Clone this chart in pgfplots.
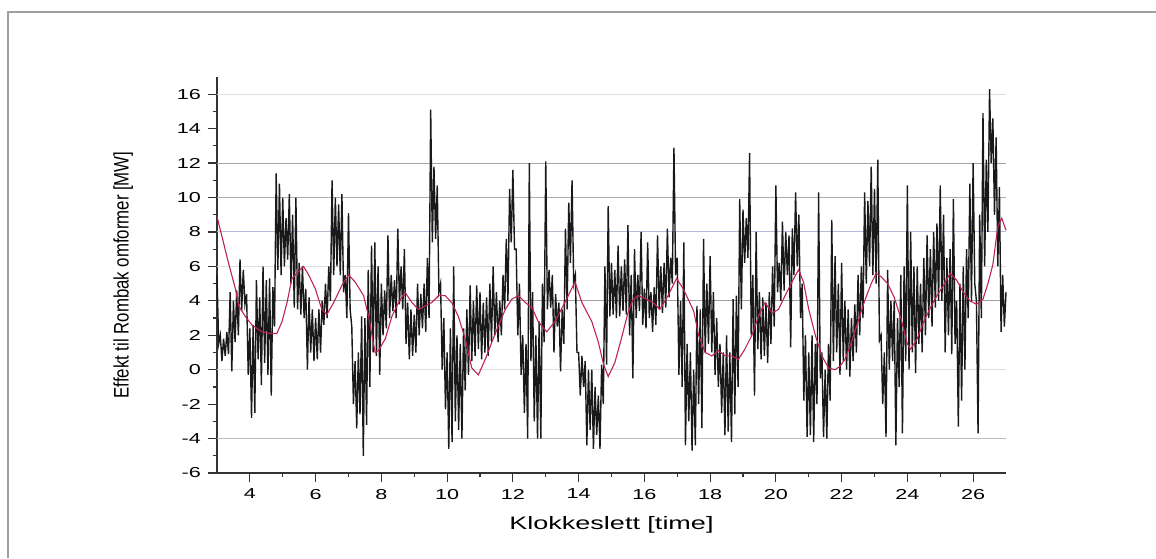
\documentclass[border=0pt]{standalone}
\usepackage{fontspec}
\setmainfont{Liberation Sans}
\usepackage{pgfplots}
\pgfplotsset{compat=1.18}
\definecolor{avg}{RGB}{190,35,85}
\definecolor{gridblue}{RGB}{150,160,205}
\begin{document}
\begin{tikzpicture}
\path[use as bounding box] (0,0) rectangle (578pt,279pt);
\draw[gray!75, line width=1pt] (4pt,0) -- (4pt,273pt) -- (578pt,273pt);
\begin{axis}[
    at={(108.5pt,42.5pt)}, anchor=south west,
    scale only axis, width=394.5pt, height=198pt,
    xmin=3, xmax=27, ymin=-6, ymax=17,
    axis x line*=bottom, axis y line*=left,
    axis line style={-, black!80, line width=0.75pt},
    xtick={4,6,...,26}, ytick={-6,-4,...,16},
    minor x tick num=1, minor y tick num=1,
    tick align=outside, major tick length=4.5pt, minor tick length=2.2pt,
    tick style={black!80, line width=0.6pt},
    /pgf/number format/assume math mode=true,
    xticklabel={\scalebox{1.5}[1]{\fontsize{7.2}{8}\selectfont\pgfmathprintnumber{\tick}}},
    yticklabel={\scalebox{1.5}[1]{\fontsize{7.2}{8}\selectfont\pgfmathprintnumber{\tick}}},
    xlabel={\scalebox{1.5}[1]{\fontsize{9}{10}\selectfont Klokkeslett [time]}},
    ylabel={\scalebox{1}[1.25]{\fontsize{8.4}{10}\selectfont Effekt til Rombak omformer [MW]}},
    every axis x label/.style={at={(axis description cs:0.5,-0.13)}, anchor=center},
    every axis y label/.style={at={(axis description cs:-0.119,0.5)}, anchor=center, rotate=90},
    clip=false,
]
% grid lines
\draw[gray!25, line width=0.5pt] (axis cs:3,16) -- (axis cs:27,16);
\draw[gray!70, line width=0.5pt] (axis cs:3,12) -- (axis cs:27,12);
\draw[gray!65, line width=0.5pt] (axis cs:3,10) -- (axis cs:27,10);
\draw[gridblue!70, line width=0.5pt] (axis cs:3,8) -- (axis cs:27,8);
\draw[gray!25, line width=0.5pt] (axis cs:3,6) -- (axis cs:27,6);
\draw[gray!75, line width=0.5pt] (axis cs:3,4) -- (axis cs:27,4);
\draw[gray!25, line width=0.5pt] (axis cs:3,0) -- (axis cs:27,0);
\draw[gray!50, line width=0.5pt] (axis cs:3,-4) -- (axis cs:27,-4);

% measured power
\addplot[black!90, line width=0.7pt] coordinates {
(3.00,5.5)(3.05,1.5)(3.10,2.0)(3.15,0.5)(3.20,1.8)(3.25,0.8)(3.30,2.2)(3.35,0.9)(3.40,4.5)(3.45,-0.1)
(3.50,4.0)(3.55,1.6)(3.60,4.6)(3.65,2.0)(3.70,6.4)(3.75,3.4)(3.80,5.8)(3.85,3.8)(3.90,4.4)(3.95,-0.3)
(4.00,2.4)(4.05,-2.8)(4.10,2.6)(4.15,-2.5)(4.20,5.2)(4.25,0.6)(4.30,4.2)(4.35,-0.9)(4.40,6.0)(4.45,0.4)
(4.50,5.2)(4.55,-0.3)(4.60,5.3)(4.65,-1.5)(4.70,4.8)(4.75,2.5)(4.80,11.4)(4.85,5.8)(4.90,10.8)(4.95,5.5)
(5.00,10.0)(5.05,6.0)(5.10,8.8)(5.15,6.4)(5.20,10.2)(5.25,5.0)(5.30,9.0)(5.35,3.6)(5.40,10.0)(5.45,3.5)
(5.50,6.2)(5.55,3.2)(5.60,6.0)(5.65,3.0)(5.70,4.7)(5.75,0.0)(5.80,4.2)(5.85,1.0)(5.90,3.5)(5.95,0.5)
(6.00,3.0)(6.05,0.6)(6.10,3.5)(6.15,1.0)(6.20,4.0)(6.25,2.6)(6.30,5.0)(6.35,3.0)(6.40,6.0)(6.45,4.0)
(6.50,11.0)(6.55,5.5)(6.60,10.0)(6.65,6.0)(6.70,9.6)(6.75,5.5)(6.80,10.2)(6.85,4.5)(6.90,5.5)(6.95,3.0)
(7.00,9.1)(7.05,3.5)(7.10,2.5)(7.15,-2.0)(7.20,0.5)(7.25,-3.4)(7.30,1.0)(7.35,-2.6)(7.40,3.1)(7.45,-5.0)
(7.50,3.0)(7.55,-3.2)(7.60,5.8)(7.65,-1.0)(7.70,7.2)(7.75,1.0)(7.80,7.4)(7.85,0.8)(7.90,6.0)(7.95,-0.3)
(8.00,5.0)(8.05,2.0)(8.10,4.6)(8.15,2.4)(8.20,7.8)(8.25,3.0)(8.30,5.5)(8.35,3.4)(8.40,5.2)(8.45,3.0)
(8.50,8.2)(8.55,3.8)(8.60,6.0)(8.65,3.5)(8.70,7.0)(8.75,1.5)(8.80,3.9)(8.85,0.6)(8.90,3.5)(8.95,0.8)
(9.00,3.2)(9.05,1.0)(9.10,5.0)(9.15,2.0)(9.20,4.4)(9.25,2.4)(9.30,5.0)(9.35,2.2)(9.40,6.5)(9.45,3.0)
(9.50,15.1)(9.55,7.4)(9.60,11.8)(9.65,7.6)(9.70,10.7)(9.75,4.5)(9.80,5.0)(9.85,0.0)(9.90,3.0)(9.95,-2.3)
(10.00,1.0)(10.05,-4.6)(10.10,2.4)(10.15,-4.2)(10.20,6.0)(10.25,-3.0)(10.30,2.0)(10.35,-3.5)(10.40,1.5)(10.45,-4.0)
(10.50,2.4)(10.55,-1.2)(10.60,3.5)(10.65,-0.3)(10.70,4.9)(10.75,0.5)(10.80,4.0)(10.85,0.8)(10.90,4.9)(10.95,1.2)
(11.00,4.5)(11.05,0.6)(11.10,3.9)(11.15,1.0)(11.20,4.2)(11.25,0.8)(11.30,5.0)(11.35,1.6)(11.40,6.0)(11.45,2.0)
(11.50,4.5)(11.55,1.6)(11.60,4.0)(11.65,2.0)(11.70,5.5)(11.75,3.5)(11.80,7.6)(11.85,4.0)(11.90,10.5)(11.95,7.4)
(12.00,11.6)(12.05,7.0)(12.10,7.0)(12.15,2.0)(12.20,5.0)(12.25,-0.3)(12.30,2.0)(12.35,-2.5)(12.40,1.5)(12.45,-4.0)
(12.50,12.0)(12.55,0.5)(12.60,4.5)(12.65,-3.0)(12.70,2.0)(12.75,-4.0)(12.80,2.8)(12.85,-4.0)(12.90,5.0)(12.95,1.6)
(13.00,12.1)(13.05,3.5)(13.10,5.8)(13.15,3.6)(13.20,5.5)(13.25,1.0)(13.30,4.4)(13.35,2.5)(13.40,3.9)(13.45,-0.1)
(13.50,3.5)(13.55,1.5)(13.60,8.2)(13.65,3.5)(13.70,9.7)(13.75,6.2)(13.80,11.0)(13.85,5.0)(13.90,5.5)(13.95,1.0)
(14.00,1.0)(14.05,-1.5)(14.10,0.8)(14.15,-1.0)(14.20,0.5)(14.25,-4.4)(14.30,0.0)(14.35,-3.5)(14.40,0.0)(14.45,-4.6)
(14.50,-1.0)(14.55,-3.8)(14.60,-1.5)(14.65,-4.6)(14.70,0.3)(14.75,-2.0)(14.80,6.0)(14.85,0.3)(14.90,9.5)(14.95,3.1)
(15.00,6.2)(15.05,3.2)(15.10,5.8)(15.15,3.0)(15.20,7.2)(15.25,3.1)(15.30,6.0)(15.35,3.4)(15.40,6.4)(15.45,3.2)
(15.50,8.4)(15.55,2.0)(15.60,5.5)(15.65,-0.5)(15.70,7.0)(15.75,3.0)(15.80,5.5)(15.85,3.4)(15.90,8.0)(15.95,2.6)
(16.00,4.7)(16.05,2.4)(16.10,7.4)(16.15,3.0)(16.20,4.5)(16.25,2.2)(16.30,4.8)(16.35,2.6)(16.40,7.8)(16.45,3.5)
(16.50,6.0)(16.55,3.3)(16.60,6.2)(16.65,3.6)(16.70,8.2)(16.75,4.2)(16.80,6.5)(16.85,5.0)(16.90,12.9)(16.95,5.5)
(17.00,6.5)(17.05,-0.3)(17.10,4.0)(17.15,-1.0)(17.20,7.4)(17.25,-4.4)(17.30,1.5)(17.35,-3.0)(17.40,1.0)(17.45,-4.7)
(17.50,0.0)(17.55,-4.4)(17.60,3.7)(17.65,-2.0)(17.70,3.5)(17.75,-3.4)(17.80,7.6)(17.85,1.0)(17.90,5.0)(17.95,1.5)
(18.00,6.6)(18.05,1.0)(18.10,4.5)(18.15,-0.3)(18.20,3.0)(18.25,-1.0)(18.30,1.5)(18.35,-2.5)(18.40,1.0)(18.45,-3.8)
(18.50,2.0)(18.55,-3.6)(18.60,1.0)(18.65,-4.2)(18.70,4.1)(18.75,-2.6)(18.80,4.3)(18.85,-1.0)(18.90,9.9)(18.95,3.5)
(19.00,9.3)(19.05,6.2)(19.10,8.8)(19.15,6.5)(19.20,12.6)(19.25,2.0)(19.30,5.5)(19.35,-1.5)(19.40,8.0)(19.45,1.2)
(19.50,4.5)(19.55,0.6)(19.60,4.2)(19.65,0.8)(19.70,3.9)(19.75,0.4)(19.80,4.5)(19.85,1.5)(19.90,6.0)(19.95,2.5)
(20.00,10.7)(20.05,4.5)(20.10,6.2)(20.15,4.0)(20.20,8.6)(20.25,4.6)(20.30,8.0)(20.35,5.5)(20.40,7.8)(20.45,1.3)
(20.50,8.2)(20.55,5.5)(20.60,10.3)(20.65,6.0)(20.70,9.0)(20.75,3.0)(20.80,5.0)(20.85,-1.8)(20.90,2.0)(20.95,-3.9)
(21.00,1.0)(21.05,-3.8)(21.10,2.0)(21.15,-4.2)(21.20,1.5)(21.25,-2.0)(21.30,10.3)(21.35,-0.5)(21.40,1.0)(21.45,-3.9)
(21.50,0.0)(21.55,-4.0)(21.60,1.5)(21.65,-1.8)(21.70,8.7)(21.75,0.5)(21.80,6.6)(21.85,1.0)(21.90,5.0)(21.95,-0.3)
(22.00,6.2)(22.05,0.5)(22.10,4.0)(22.15,0.0)(22.20,3.5)(22.25,-0.4)(22.30,3.0)(22.35,0.5)(22.40,3.8)(22.45,1.0)
(22.50,5.5)(22.55,2.0)(22.60,6.0)(22.65,3.0)(22.70,10.3)(22.75,5.0)(22.80,9.8)(22.85,6.0)(22.90,11.8)(22.95,5.5)
(23.00,10.5)(23.05,5.0)(23.10,12.2)(23.15,1.7)(23.20,2.0)(23.25,-2.0)(23.30,1.0)(23.35,-3.9)(23.40,5.8)(23.45,0.0)
(23.50,4.0)(23.55,0.5)(23.60,4.0)(23.65,-4.4)(23.70,3.0)(23.75,-1.0)(23.80,5.5)(23.85,-3.7)(23.90,6.0)(23.95,0.5)
(24.00,10.7)(24.05,0.0)(24.10,8.0)(24.15,1.0)(24.20,6.0)(24.25,-0.2)(24.30,6.0)(24.35,1.5)(24.40,5.0)(24.45,1.0)
(24.50,6.5)(24.55,2.0)(24.60,7.8)(24.65,3.0)(24.70,7.0)(24.75,2.5)(24.80,8.0)(24.85,3.6)(24.90,8.5)(24.95,4.0)
(25.00,10.7)(25.05,4.0)(25.10,9.0)(25.15,1.0)(25.20,6.5)(25.25,2.0)(25.30,7.0)(25.35,0.9)(25.40,9.9)(25.45,1.5)
(25.50,4.0)(25.55,-3.3)(25.60,5.0)(25.65,-1.8)(25.70,6.0)(25.75,0.0)(25.80,7.0)(25.85,3.0)(25.90,10.8)(25.95,4.0)
(26.00,12.0)(26.05,5.0)(26.10,4.0)(26.15,-3.7)(26.20,9.0)(26.25,3.0)(26.30,14.9)(26.35,6.0)(26.40,12.2)(26.45,8.0)
(26.50,16.3)(26.55,12.0)(26.60,14.6)(26.65,9.0)(26.70,13.5)(26.75,6.0)(26.80,10.6)(26.85,2.2)(26.90,5.5)(26.95,2.5)
(27.00,4.5)
};

% moving average
\addplot[avg, line width=0.55pt] coordinates {
(3.0,8.9)(3.35,6.2)(3.56,4.7)(3.66,3.7)(3.86,3.1)(4.06,2.6)(4.37,2.2)(4.62,2.1)(4.82,2.1)(4.98,2.8)
(5.13,3.9)(5.28,5.3)(5.48,5.7)(5.63,6.0)(5.79,5.5)(5.99,4.7)(6.19,3.5)(6.34,3.2)(6.55,3.9)(6.8,4.9)
(7.0,5.5)(7.2,5.1)(7.46,4.3)(7.61,3.1)(7.81,1.0)(7.91,1.1)(8.12,1.8)(8.32,3.1)(8.52,3.9)(8.72,4.5)
(8.93,3.9)(9.13,3.5)(9.33,3.7)(9.53,3.9)(9.74,4.3)(9.94,4.3)(10.14,3.9)(10.34,3.1)(10.55,1.8)(10.75,0.1)
(10.95,-0.3)(11.16,0.6)(11.36,1.6)(11.57,2.6)(11.77,3.5)(11.97,4.1)(12.17,4.3)(12.38,3.9)(12.58,3.6)(12.77,2.8)
(13.03,2.2)(13.28,2.8)(13.58,3.9)(13.89,5.1)(14.1,3.9)(14.4,2.8)(14.6,1.6)(14.76,0.3)(14.9,-0.4)(15.1,0.4)
(15.3,1.8)(15.5,3.3)(15.66,4.1)(15.81,4.3)(16.06,4.1)(16.27,3.9)(16.47,3.5)(16.72,4.3)(16.98,5.3)(17.18,4.7)
(17.38,3.9)(17.5,3.4)(17.65,2.0)(17.85,1.0)(18.05,0.8)(18.25,1.1)(18.46,0.8)(18.66,0.8)(18.86,0.6)(19.06,1.2)
(19.27,2.0)(19.47,3.1)(19.67,3.9)(19.88,3.3)(20.08,3.5)(20.28,4.3)(20.49,5.1)(20.69,5.8)(20.84,5.1)(21.0,3.5)
(21.2,2.0)(21.4,0.8)(21.6,0.1)(21.8,0.0)(21.95,0.2)(22.1,0.6)(22.3,1.6)(22.5,2.8)(22.7,4.0)(22.9,5.0)
(23.05,5.6)(23.2,5.4)(23.4,5.0)(23.6,4.2)(23.8,3.0)(24.0,1.5)(24.1,1.2)(24.3,1.8)(24.5,2.8)(24.7,3.6)
(24.9,4.3)(25.1,4.9)(25.3,5.6)(25.5,5.2)(25.7,4.5)(25.9,4.0)(26.1,3.8)(26.3,4.1)(26.45,5.0)(26.6,6.1)
(26.75,8.3)(26.87,8.8)(27.0,8.1)
};
\end{axis}
\end{tikzpicture}
\end{document}
